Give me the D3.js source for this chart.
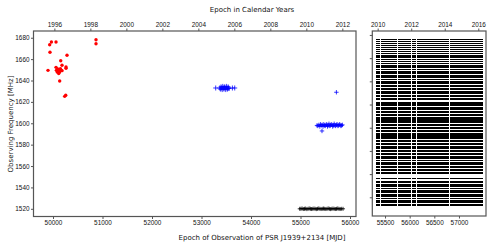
<!DOCTYPE html>
<html lang="en">
<meta charset="utf-8"/>
<body>
<svg id="chart" width="498" height="249"></svg>
</body>
<style>
	body { margin: 0; background: #fff; }
	svg { display: block; font-family: "DejaVu Sans", sans-serif; }
	.axis text { font-size: 6.4px; fill: #111; }
	.axis path, .axis line { stroke: #555; }
	.title { font-size: 7px; fill: #111; }
</style>
<script src="https://d3js.org/d3.v7.min.js"></script>
<script>
// early red points (circles): epoch MJD, frequency MHz
let redMjd  = [49968, 49933, 50061, 49939, 50869, 50869, 50283, 50156, 50182, 49899,
               50061, 50069, 50101, 50135, 50170, 50129, 50182, 50095, 50085, 50263,
               50263, 50135, 50236, 50257, 50150, 50115]
let redFreq = [1676, 1673.5, 1676, 1666.4, 1678.1, 1674.4, 1663.6, 1658.5, 1654.2, 1649.5,
               1652.3, 1649.5, 1648.6, 1649.5, 1649.5, 1647.7, 1649.2, 1650.7, 1648, 1652.6,
               1651.4, 1639.5, 1625.2, 1626.2, 1651, 1646.5]

// blue crosses around 2005
let blueMjdA  = [53287, 53368, 53382, 53394, 53406, 53418, 53430, 53442, 53454, 53466,
                 53478, 53490, 53502, 53514, 53526, 53538, 53550, 53556, 53624, 53671]
let blueFreqA = [1633, 1633, 1632, 1634, 1633, 1631.5, 1634.5, 1633, 1632, 1634,
                 1633, 1631.5, 1634.5, 1633, 1632, 1634, 1633, 1632.5, 1633, 1633]

// blue crosses around 2011
let blueMjdB  = [55333, 55350, 55372, 55390, 55405, 55420, 55434, 55440, 55455, 55470,
                 55485, 55500, 55515, 55530, 55545, 55560, 55575, 55590, 55605, 55620,
                 55635, 55650, 55665, 55680, 55695, 55710, 55725, 55725, 55740, 55755,
                 55770, 55785, 55800, 55815, 55830, 55846]
let blueFreqB = [1598, 1597.5, 1598.5, 1597, 1599, 1598, 1592.8, 1598.5, 1597, 1599,
                 1598, 1597.5, 1598.5, 1599, 1597, 1598, 1599.5, 1597.5, 1598, 1599,
                 1598.5, 1597, 1598, 1599.5, 1598, 1597.5, 1629, 1598.5, 1599, 1597.5,
                 1598, 1599, 1598.5, 1597.5, 1598, 1598.5]

// black crosses at 1520 MHz
let blackMjd  = [54984, 55008, 55032, 55056, 55080, 55104, 55128, 55152, 55176, 55200,
                 55224, 55248, 55272, 55296, 55320, 55344, 55368, 55392, 55416, 55440,
                 55464, 55488, 55512, 55536, 55560, 55584, 55608, 55632, 55656, 55680,
                 55704, 55728, 55752, 55776, 55800, 55824, 55859]
let blackFreq = [1520, 1520, 1520.3, 1519.8, 1520, 1520.2, 1519.7, 1520, 1520.3, 1520,
                 1519.8, 1520, 1520.2, 1520, 1519.7, 1520, 1520.3, 1520, 1519.8, 1520,
                 1520.2, 1520, 1519.8, 1520, 1520.3, 1520, 1519.7, 1520, 1520.2, 1520,
                 1519.8, 1520, 1520.3, 1520, 1519.8, 1520, 1520]

// right panel: observing epochs (MJD) and frequency channels (MHz)
let gridEpochs = [55332, 55352, 55372, 55392, 55432, 55452, 55472, 55493, 55512, 55533,
                  55553, 55574, 55594, 55614, 55634, 55655, 55675, 55695, 55716, 55736,
                  55778, 55797, 55818, 55838, 55858, 55879, 55899, 55919, 55940, 55960,
                  55980, 56001, 56021, 56062, 56083, 56103, 56122, 56163, 56184, 56204,
                  56224, 56245, 56265, 56285, 56306, 56326, 56346, 56367, 56387, 56407,
                  56428, 56448, 56468, 56489, 56509, 56529, 56550, 56570, 56590, 56611,
                  56631, 56651, 56672, 56692, 56712, 56733, 56753, 56773, 56794, 56838,
                  56858, 56878, 56899, 56940, 56960, 57001, 57021, 57042, 57062, 57082,
                  57103, 57123, 57143, 57164, 57184, 57204, 57225, 57245, 57265, 57286,
                  57306, 57326, 57347, 57367, 57387, 57408, 57428, 57448, 57469]
let gridChannels = [1882, 1873, 1865, 1856, 1848, 1839, 1830, 1822, 1813, 1805,
                    1796, 1787, 1779, 1770, 1762, 1753, 1744, 1736, 1727, 1719,
                    1710, 1701, 1693, 1684, 1676, 1667, 1658, 1650, 1641, 1633, 1624,
                    1607, 1598, 1589, 1581, 1572, 1564, 1555, 1546, 1538, 1529,
                    1521, 1512, 1503, 1495, 1486, 1477, 1469, 1460, 1452, 1443,
                    1434, 1426, 1417, 1409, 1400, 1391, 1383, 1374, 1366, 1357,
                    1348, 1340, 1331, 1322, 1314, 1305,
                    1281,
                    1266, 1257, 1249, 1240, 1231, 1223, 1214, 1206, 1197, 1188, 1180, 1171, 1163]

let leftMjdTicks  = [50000, 51000, 52000, 53000, 54000, 55000, 56000]
let leftYearTicks = [1996, 1998, 2000, 2002, 2004, 2006, 2008, 2010, 2012]
let freqTicks     = [1520, 1540, 1560, 1580, 1600, 1620, 1640, 1660, 1680]
let rightMjdTicks = [55500, 56000, 56500, 57000]
let rightYearTicks = [2010, 2012, 2014, 2016]
let rightFreqTicks = [1200, 1300, 1400, 1500, 1600, 1700, 1800, 1900]

let svg = d3.select("#chart")

let L = {x0: 33.5, x1: 356, y0: 31, y1: 216.5}
let R = {x0: 372.3, x1: 486, y0: 31, y1: 216}

let xL = d3.scaleLinear().domain([49606, 56121]).range([L.x0, L.x1])
let yL = d3.scaleLinear().domain([1512.8, 1686.3]).range([L.y1, L.y0])
let tL = d3.scaleLinear().domain([1994.84, 2012.76]).range([L.x0, L.x1])

let xR = d3.scaleLinear().domain([55242, 57548]).range([R.x0, R.x1])
let yR = d3.scaleLinear().domain([1119.4, 1917]).range([R.y1, R.y0])
let tR = d3.scaleLinear().domain([2009.68, 2016.46]).range([R.x0, R.x1])

function zip(a, b) { return a.map((v, i) => [v, b[i]]) }

// right panel grid of points
let grid = []
gridEpochs.forEach(e => gridChannels.forEach(c => grid.push([e, c])))
svg.append("g")
	.attr("shape-rendering", "crispEdges")
	.selectAll("rect")
	.data(grid)
	.enter()
	.append("rect")
	.attr("x", d => xR(d[0]) - 0.6)
	.attr("y", d => yR(d[1]) - 0.5)
	.attr("width", 1.2)
	.attr("height", 1.1)
	.attr("fill", "black")

// left panel
let plus = (g, data, color, s) => {
	g.selectAll("path")
		.data(data)
		.enter()
		.append("path")
		.attr("d", d => {
			let x = xL(d[0]), y = yL(d[1])
			return "M" + (x - s) + "," + y + "H" + (x + s) + "M" + x + "," + (y - s) + "V" + (y + s)
		})
		.attr("stroke", color)
		.attr("stroke-width", 0.8)
		.attr("fill", "none")
}
plus(svg.append("g"), zip(blackMjd, blackFreq), "black", 2)
plus(svg.append("g"), zip(blueMjdA, blueFreqA), "blue", 2.5)
plus(svg.append("g"), zip(blueMjdB, blueFreqB), "blue", 2.2)

svg.append("g")
	.selectAll("circle")
	.data(zip(redMjd, redFreq))
	.enter()
	.append("circle")
	.attr("cx", d => xL(d[0]))
	.attr("cy", d => yL(d[1]))
	.attr("r", 1.7)
	.attr("fill", "red")

// axes
let ts = 2.5
function frame(b) {
	svg.append("rect")
		.attr("x", b.x0).attr("y", b.y0)
		.attr("width", b.x1 - b.x0).attr("height", b.y1 - b.y0)
		.attr("fill", "none").attr("stroke", "#555").attr("stroke-width", 1.2)
}
frame(L)
frame(R)

svg.append("g").attr("class", "axis")
	.attr("transform", "translate(0," + L.y1 + ")")
	.call(d3.axisBottom(xL).tickValues(leftMjdTicks).tickFormat(d3.format("d")).tickSize(ts).tickPadding(1.5))
svg.append("g").attr("class", "axis")
	.attr("transform", "translate(0," + L.y0 + ")")
	.call(d3.axisTop(tL).tickValues(leftYearTicks).tickFormat(d3.format("d")).tickSize(ts).tickPadding(1.5))
svg.append("g").attr("class", "axis")
	.attr("transform", "translate(" + L.x0 + ",0)")
	.call(d3.axisLeft(yL).tickValues(freqTicks).tickFormat(d3.format("d")).tickSize(ts).tickPadding(1.5))

svg.append("g").attr("class", "axis")
	.attr("transform", "translate(0," + R.y1 + ")")
	.call(d3.axisBottom(xR).tickValues(rightMjdTicks).tickFormat(d3.format("d")).tickSize(ts).tickPadding(1.5))
svg.append("g").attr("class", "axis")
	.attr("transform", "translate(0," + R.y0 + ")")
	.call(d3.axisTop(tR).tickValues(rightYearTicks).tickFormat(d3.format("d")).tickSize(ts).tickPadding(1.5))
svg.append("g").attr("class", "axis")
	.attr("transform", "translate(" + R.x0 + ",0)")
	.call(d3.axisLeft(yR).tickValues(rightFreqTicks).tickFormat("").tickSize(ts))

svg.selectAll(".axis .domain").remove()

// titles
svg.append("text").attr("class", "title")
	.attr("x", 252).attr("y", 12).attr("text-anchor", "middle")
	.text("Epoch in Calendar Years")
svg.append("text").attr("class", "title")
	.attr("x", 262).attr("y", 240).attr("text-anchor", "middle")
	.text("Epoch of Observation of PSR J1939+2134 [MJD]")
svg.append("text").attr("class", "title")
	.attr("transform", "translate(12.5,124) rotate(-90)")
	.attr("text-anchor", "middle")
	.text("Observing Frequency [MHz]")
</script>
</html>
